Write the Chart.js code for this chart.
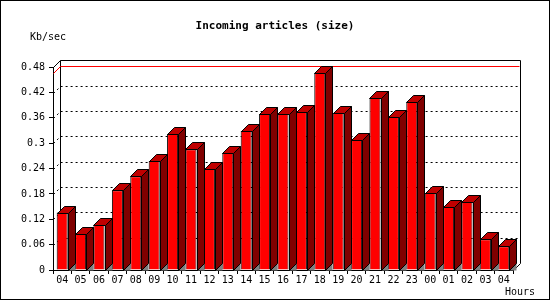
<!DOCTYPE html>
<html>
<head>
<meta charset="utf-8">
<script src="https://cdn.jsdelivr.net/npm/chart.js@4.4.1/dist/chart.umd.min.js"></script>
<style>
  html, body { margin: 0; padding: 0; background: #fff; }
  canvas { display: block; }
</style>
</head>
<body>
<canvas id="chart" width="550" height="300"></canvas>
<script>
// horas do dia (04 -> 04 do dia seguinte) e taxa observada em Kb/sec
const hours = ['04', '05', '06', '07', '08', '09', '10', '11', '12', '13', '14', '15', '16',
  '17', '18', '19', '20', '21', '22', '23', '00', '01', '02', '03', '04'];
const kbPerSec = [0.136, 0.085, 0.107, 0.189, 0.222, 0.258, 0.322, 0.286, 0.240, 0.277, 0.329, 0.369, 0.369,
  0.374, 0.467, 0.372, 0.308, 0.407, 0.362, 0.398, 0.182, 0.149, 0.161, 0.073, 0.056];
const yTicks = [0, 0.06, 0.12, 0.18, 0.24, 0.3, 0.36, 0.42, 0.48];
const yTickLabels = ['0', '0.06', '0.12', '0.18', '0.24', '0.3', '0.36', '0.42', '0.48'];

const DEPTH = 7;
const MONO = '"DejaVu Sans Mono", "Liberation Mono", monospace';
const snap = v => Math.round(v) + 0.5;

function line(ctx, pts) {
  ctx.beginPath();
  ctx.moveTo(snap(pts[0][0]), snap(pts[0][1]));
  for (let i = 1; i < pts.length; i++) ctx.lineTo(snap(pts[i][0]), snap(pts[i][1]));
  ctx.stroke();
}

function poly(ctx, pts, fill) {
  ctx.beginPath();
  ctx.moveTo(snap(pts[0][0]), snap(pts[0][1]));
  for (let i = 1; i < pts.length; i++) ctx.lineTo(snap(pts[i][0]), snap(pts[i][1]));
  ctx.closePath();
  ctx.fillStyle = fill;
  ctx.fill();
  ctx.stroke();
}

// parede do fundo, grade pontilhada e linha do máximo — antes das barras
// faces de cima/lateral das barras — depois
const depth3d = {
  id: 'depth3d',
  beforeDatasetsDraw(chart) {
    const { ctx, chartArea: a, scales: { y } } = chart;
    const D = DEPTH;
    const top = y.getPixelForValue(yTicks[yTicks.length - 1]);
    ctx.save();
    ctx.lineWidth = 1;
    ctx.strokeStyle = '#000';
    ctx.setLineDash([2, 3]);
    yTicks.slice(1, -1).forEach(v => {
      const py = y.getPixelForValue(v);
      line(ctx, [[a.left, py], [a.left + D, py - D], [a.right + D, py - D]]);
    });
    ctx.setLineDash([]);
    line(ctx, [[a.left, top], [a.left + D, top - D], [a.right + D, top - D], [a.right + D, a.bottom - D], [a.right, a.bottom]]);
    line(ctx, [[a.left + D, top - D], [a.left + D, a.bottom - D]]);
    const ym = y.getPixelForValue(Math.max(...kbPerSec));
    ctx.strokeStyle = '#ff0000';
    line(ctx, [[a.left, ym], [a.left + D, ym - D], [a.right + D - 1, ym - D]]);
    ctx.restore();
  },
  afterDatasetsDraw(chart) {
    const { ctx } = chart;
    const D = DEPTH;
    ctx.save();
    ctx.lineWidth = 1;
    ctx.strokeStyle = '#000';
    chart.getDatasetMeta(0).data.forEach(bar => {
      const { x, y, base, width } = bar.getProps(['x', 'y', 'base', 'width'], true);
      const xl = x - width / 2, xr = x + width / 2;
      ctx.beginPath();
      ctx.moveTo(snap(xr), snap(base));
      ctx.lineTo(snap(xr + D), snap(base - D));
      ctx.lineTo(snap(xr + D), snap(base));
      ctx.closePath();
      ctx.fillStyle = '#808080';
      ctx.fill();
      poly(ctx, [[xr, y], [xr + D, y - D], [xr + D, base - D], [xr, base]], '#800000');
      poly(ctx, [[xl, y], [xl + D, y - D], [xr + D, y - D], [xr, y]], '#c00000');
    });
    ctx.restore();
  },
  afterDraw(chart) {
    const { ctx } = chart;
    ctx.save();
    ctx.fillStyle = '#000';
    ctx.font = '10px ' + MONO;
    ctx.textBaseline = 'middle';
    ctx.fillText('Kb/sec', 30, 37);
    ctx.fillText('Hours', 505, 292);
    ctx.strokeStyle = '#000';
    ctx.lineWidth = 1;
    ctx.strokeRect(0.5, 0.5, 549, 299);
    ctx.restore();
  }
};

new Chart(document.getElementById('chart'), {
  type: 'bar',
  data: {
    labels: hours,
    datasets: [{
      data: kbPerSec,
      backgroundColor: '#ff0000',
      borderColor: '#000000',
      borderWidth: 1,
      categoryPercentage: 1,
      barPercentage: 0.6
    }]
  },
  options: {
    responsive: false,
    animation: false,
    devicePixelRatio: 1,
    layout: { padding: 0 },
    plugins: {
      legend: { display: false },
      tooltip: { enabled: false },
      title: {
        display: true,
        text: 'Incoming articles (size)',
        color: '#000',
        font: { family: MONO, size: 11, weight: 'bold', lineHeight: 1.2 },
        padding: { top: 20, bottom: 34 }
      }
    },
    scales: {
      x: {
        offset: true,
        grid: { display: true, offset: true, drawOnChartArea: false, drawTicks: true, tickLength: 4, color: '#000' },
        border: { display: true, color: '#000' },
        ticks: { color: '#000', font: { family: MONO, size: 10 }, padding: 0, maxRotation: 0, autoSkip: false },
        afterFit: s => { s.height = 30; }
      },
      y: {
        min: 0,
        max: 0.48,
        afterBuildTicks: s => { s.ticks = yTicks.map(v => ({ value: v })); },
        grid: { display: true, drawOnChartArea: false, drawTicks: true, tickLength: 4, color: '#000' },
        border: { display: true, color: '#000' },
        ticks: {
          color: '#000',
          font: { family: MONO, size: 10 },
          padding: 4,
          callback: v => yTickLabels[yTicks.indexOf(v)]
        },
        afterFit: s => { s.width = 53; }
      },
      // espaço vazio à direita (profundidade + "Hours"), sem nada desenhado
      yRight: {
        position: 'right',
        display: true,
        grid: { display: false },
        border: { display: false },
        ticks: { display: false },
        afterFit: s => { s.width = 37; }
      }
    }
  },
  plugins: [depth3d]
});
</script>
</body>
</html>
